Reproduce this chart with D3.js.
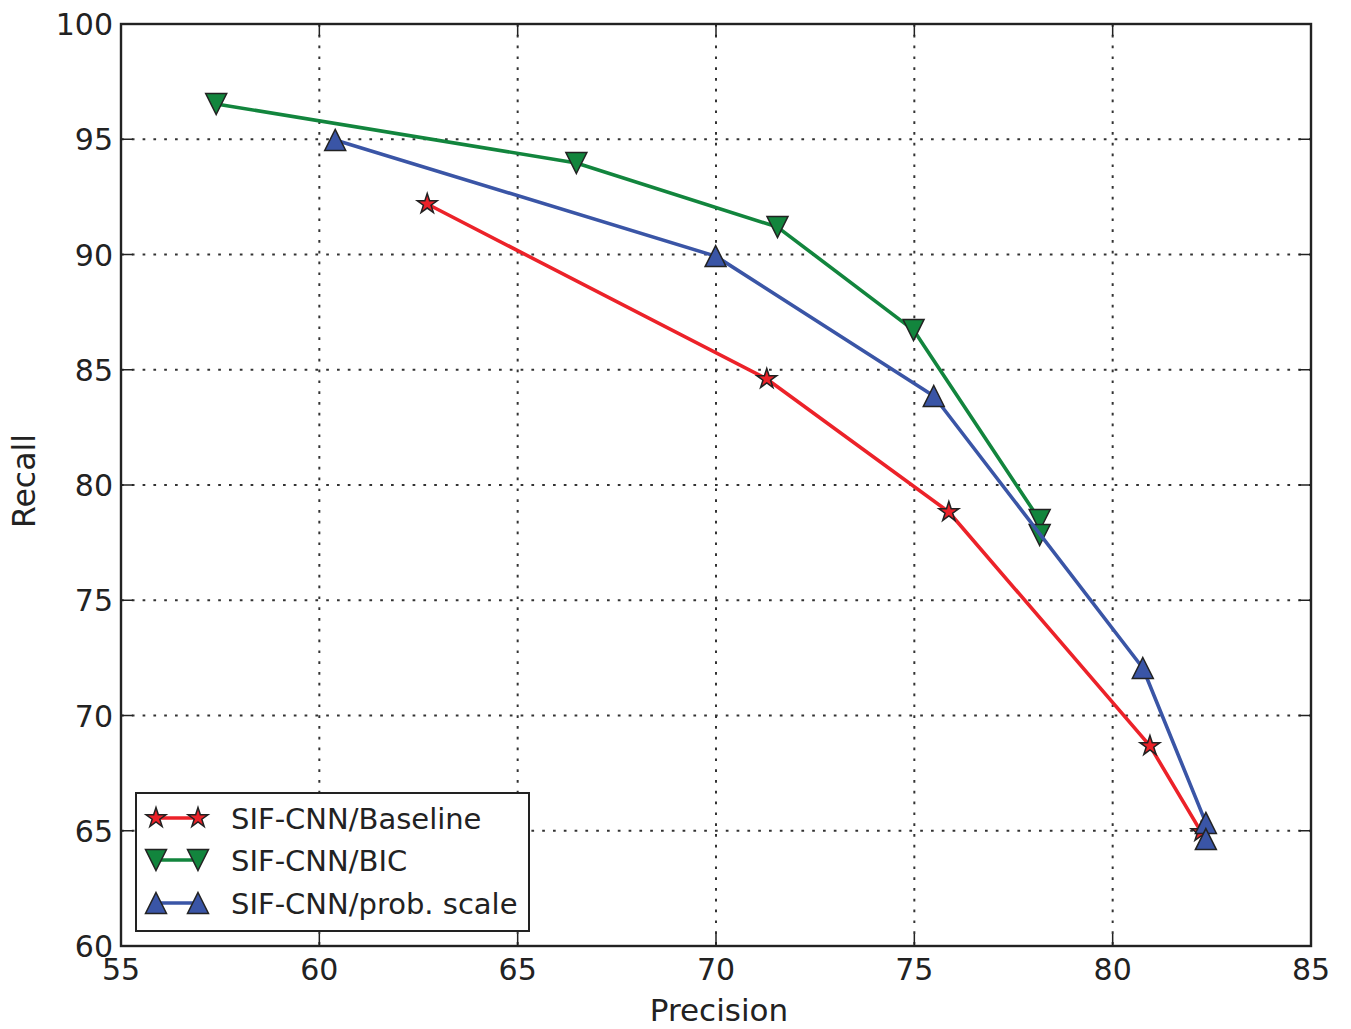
<!DOCTYPE html>
<html>
<head>
<meta charset="utf-8">
<script src="https://cdn.jsdelivr.net/npm/d3@7"></script>
<style>
  html, body { margin: 0; padding: 0; background: #fff; }
  svg { display: block; font-family: "DejaVu Sans", sans-serif; }
</style>
</head>
<body>
<svg id="chart" width="1351" height="1029"></svg>
<script>
// Precision / recall operating points for each method
const seriesNames = ["SIF-CNN/Baseline", "SIF-CNN/BIC", "SIF-CNN/prob. scale"];
const precisionBaseline = [62.72, 71.28, 75.87, 80.94, 82.23];
const recallBaseline    = [92.19, 84.60, 78.83, 68.68, 64.95];
const precisionBIC = [57.40, 66.48, 71.55, 74.98, 78.16, 78.16];
const recallBIC    = [96.53, 93.97, 91.19, 86.72, 78.48, 77.83];
const precisionProb = [60.40, 69.99, 75.49, 80.76, 82.35, 82.35];
const recallProb    = [94.97, 89.93, 83.86, 72.06, 65.34, 64.64];
const xTicks = [55, 60, 65, 70, 75, 80, 85];
const yTicks = [60, 65, 70, 75, 80, 85, 90, 95, 100];

(function draw() {
  const svg = d3.select("#chart");
  const pl = 121, pr = 1311, pt = 24, pb = 946;
  const x = d3.scaleLinear().domain([55, 85]).range([pl, pr]);
  const y = d3.scaleLinear().domain([60, 100]).range([pb, pt]);

  const styles = [
    { color: "#ec2229", marker: "star" },
    { color: "#12853d", marker: "down" },
    { color: "#3a55a6", marker: "up" }
  ];
  const series = [
    d3.zip(precisionBaseline, recallBaseline),
    d3.zip(precisionBIC, recallBIC),
    d3.zip(precisionProb, recallProb)
  ];

  // Grid (dotted)
  const grid = svg.append("g").attr("stroke", "#333").attr("stroke-width", 2)
    .attr("stroke-dasharray", "2.7,8.1");
  xTicks.slice(1, -1).forEach(t => grid.append("line")
    .attr("x1", x(t)).attr("x2", x(t)).attr("y1", pt).attr("y2", pb));
  yTicks.slice(1, -1).forEach(t => grid.append("line")
    .attr("x1", pl).attr("x2", pr).attr("y1", y(t)).attr("y2", y(t)));

  // Marker shapes
  const R = 10.5;
  function markerPath(kind, r) {
    if (kind === "up") return `M0,${-r}L${r},${r}L${-r},${r}Z`;
    if (kind === "down") return `M0,${r}L${r},${-r}L${-r},${-r}Z`;
    const pts = [];
    for (let i = 0; i < 10; i++) {
      const rr = i % 2 === 0 ? r : r * 0.381966;
      const a = -Math.PI / 2 + i * Math.PI / 5;
      pts.push([rr * Math.cos(a), rr * Math.sin(a)]);
    }
    return "M" + pts.map(p => p.join(",")).join("L") + "Z";
  }

  const line = d3.line().x(d => x(d[0])).y(d => y(d[1]));
  const plot = svg.append("g");
  series.forEach((data, i) => {
    const g = plot.append("g");
    g.append("path").attr("d", line(data)).attr("fill", "none")
      .attr("stroke", styles[i].color).attr("stroke-width", 3.6)
      .attr("stroke-linejoin", "round");
    g.selectAll("path.m").data(data).join("path").attr("class", "m")
      .attr("transform", d => `translate(${x(d[0])},${y(d[1])})`)
      .attr("d", markerPath(styles[i].marker, R))
      .attr("fill", styles[i].color).attr("stroke", "#222").attr("stroke-width", 1.5);
  });

  // Frame and inward ticks
  const axisColor = "#222";
  const ax = svg.append("g").attr("stroke", axisColor);
  const tickLen = 12;
  xTicks.forEach(t => {
    ax.append("line").attr("x1", x(t)).attr("x2", x(t)).attr("y1", pb).attr("y2", pb - tickLen).attr("stroke-width", 1.5);
    ax.append("line").attr("x1", x(t)).attr("x2", x(t)).attr("y1", pt).attr("y2", pt + tickLen).attr("stroke-width", 1.5);
  });
  yTicks.forEach(t => {
    ax.append("line").attr("x1", pl).attr("x2", pl + tickLen).attr("y1", y(t)).attr("y2", y(t)).attr("stroke-width", 1.5);
    ax.append("line").attr("x1", pr).attr("x2", pr - tickLen).attr("y1", y(t)).attr("y2", y(t)).attr("stroke-width", 1.5);
  });
  ax.append("rect").attr("x", pl).attr("y", pt).attr("width", pr - pl)
    .attr("height", pb - pt).attr("fill", "none").attr("stroke-width", 2.4);

  // Tick labels
  const labels = svg.append("g").attr("fill", "#222").attr("font-size", 30);
  xTicks.forEach(t => labels.append("text").attr("x", x(t)).attr("y", 980)
    .attr("text-anchor", "middle").text(t));
  yTicks.forEach(t => labels.append("text").attr("x", 113).attr("y", y(t) + 11)
    .attr("text-anchor", "end").text(t));

  // Axis titles
  labels.append("text").attr("x", 719).attr("y", 1021).attr("font-size", 31)
    .attr("text-anchor", "middle").text("Precision");
  labels.append("text").attr("transform", `translate(35,481) rotate(-90)`)
    .attr("font-size", 31.5).attr("text-anchor", "middle").text("Recall");

  // Legend
  const lg = svg.append("g");
  lg.append("rect").attr("x", 136).attr("y", 793).attr("width", 393).attr("height", 138)
    .attr("fill", "#fff").attr("stroke", axisColor).attr("stroke-width", 2);
  const rowY = [818, 860, 903];
  seriesNames.forEach((name, i) => {
    const yy = rowY[i];
    lg.append("line").attr("x1", 156).attr("x2", 198).attr("y1", yy).attr("y2", yy)
      .attr("stroke", styles[i].color).attr("stroke-width", 3.6);
    [156, 198].forEach(mx => lg.append("path")
      .attr("transform", `translate(${mx},${yy})`)
      .attr("d", markerPath(styles[i].marker, R))
      .attr("fill", styles[i].color).attr("stroke", "#222").attr("stroke-width", 1.5));
    lg.append("text").attr("x", 231).attr("y", yy + 10.5).attr("font-size", 29)
      .attr("fill", "#222").text(name);
  });
})();
</script>
</body>
</html>
